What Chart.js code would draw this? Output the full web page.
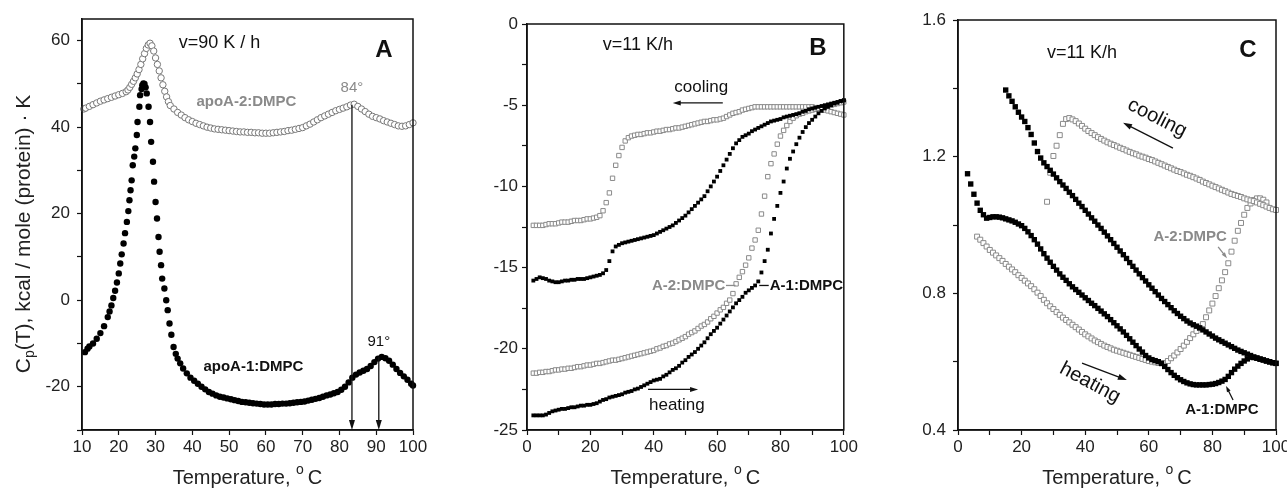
<!DOCTYPE html>
<html>
<head>
<meta charset="utf-8">
<script src="https://cdn.jsdelivr.net/npm/chart.js@4.4.0/dist/chart.umd.min.js"></script>
<style>
  html, body { margin: 0; padding: 0; background: #fff; }
  body { width: 1287px; height: 489px; overflow: hidden; position: relative; }
  canvas { position: absolute; top: 0; }
</style>
</head>
<body>
<canvas id="panel-a" width="430" height="489" style="left:0px"></canvas>
<canvas id="panel-b" width="430" height="489" style="left:430px"></canvas>
<canvas id="panel-c" width="440" height="489" style="left:860px"></canvas>
<script>
// ---- Panel A: DSC, Cp(T) vs temperature ----
const aXRange = [10, 100];
const aYRange = [-30, 65];
const aXLabels = [10, 20, 30, 40, 50, 60, 70, 80, 90, 100];
const aYLabels = [-20, 0, 20, 40, 60];

const apoA2Cp = [
  [10.5,44.2],[11,44.4],[12,44.8],[13,45.2],[14,45.6],[15,46.0],[16,46.3],[17,46.6],[18,46.9],[19,47.2],
  [20,47.5],[21,47.8],[22,48.2],[22.5,48.6],[23,49.2],[23.5,49.9],[24,50.6],[24.5,51.4],[25,52.3],[25.5,53.3],
  [26,54.5],[26.5,55.8],[27,57.0],[27.5,58.2],[28,59.0],[28.5,59.4],[29,58.8],[29.5,57.6],[30,56.0],[30.5,54.5],
  [31,53.0],[31.5,51.4],[32,49.8],[32.5,48.3],[33,47.0],[33.5,45.9],[34,45.0],[35,44.2],[36,43.4],[37,42.8],
  [38,42.2],[39,41.7],[40,41.3],[41,40.9],[42,40.6],[43,40.3],[44,40.0],[45,39.8],[46,39.6],[47,39.5],
  [48,39.4],[49,39.3],[50,39.2],[51,39.1],[52,39.0],[53,38.9],[54,38.9],[55,38.8],[56,38.8],[57,38.7],
  [58,38.7],[59,38.6],[60,38.6],[61,38.6],[62,38.7],[63,38.8],[64,38.9],[65,39.0],[66,39.2],[67,39.3],
  [68,39.5],[69,39.7],[70,39.9],[71,40.3],[72,40.7],[73,41.2],[74,41.7],[75,42.2],[76,42.6],[77,43.0],
  [78,43.4],[79,43.8],[80,44.1],[81,44.4],[82,44.7],[83,45.1],[84,45.3],[85,44.8],[86,44.2],[87,43.6],
  [88,43.0],[89,42.5],[90,42.2],[91,41.9],[92,41.5],[93,41.2],[94,40.9],[95,40.6],[96,40.3],[97,40.2],
  [98,40.3],[99,40.6],[100,41.0]
];
const apoA1Cp = [
  [10.8,-12.0],[11.5,-11.2],[12,-10.7],[13,-10.0],[14,-8.9],[15,-7.6],[16,-6.0],[17,-3.9],[17.5,-2.6],[18,-1.2],
  [18.5,0.5],[19,2.2],[19.5,4.1],[20,6.2],[20.4,8.5],[20.8,10.6],[21.3,13.1],[21.7,15.5],[22.2,18.1],[22.6,20.6],
  [22.9,23.1],[23.2,25.4],[23.5,27.7],[23.8,31.2],[24.2,33.2],[24.5,35.1],[24.9,38.2],[25.1,41.2],[25.6,44.7],[25.8,47.4],
  [26.2,48.8],[26.4,49.7],[26.7,50.1],[27.0,50.0],[27.3,49.2],[27.6,47.8],[28.1,44.7],[28.5,41.2],[28.8,36.6],[29.3,32.0],
  [29.6,27.4],[30.0,22.7],[30.4,18.9],[30.8,14.6],[31.1,11.2],[31.5,8.1],[31.8,5.0],[32.4,2.7],[32.9,0.0],[33.3,-2.3],
  [33.8,-5.4],[34.3,-8.0],[34.9,-10.8],[35.5,-12.4],[36,-13.5],[36.7,-14.6],[37.5,-15.8],[38.5,-16.9],[39.5,-17.9],[40.5,-18.6],
  [41.5,-19.3],[42.5,-20.0],[43.5,-20.6],[44.5,-21.2],[45.5,-21.6],[46.5,-22.0],[47.5,-22.3],[48.5,-22.5],[49.5,-22.7],[50.5,-22.9],
  [51.5,-23.1],[52.5,-23.3],[53.5,-23.5],[54.5,-23.6],[55.5,-23.7],[56.5,-23.8],[57.5,-23.9],[58.5,-24.0],[59.5,-24.1],[60.5,-24.1],
  [61.5,-24.1],[62.5,-24.0],[63.5,-24.0],[64.5,-23.9],[65.5,-23.9],[66.5,-23.8],[67.5,-23.7],[68.5,-23.6],[69.5,-23.5],[70.5,-23.4],
  [71.5,-23.2],[72.5,-23.0],[73.5,-22.8],[74.5,-22.6],[75.5,-22.3],[76.5,-22.0],[77.5,-21.8],[78.5,-21.5],[79.5,-21.2],[80.5,-20.7],
  [81.5,-20.0],[82.5,-19.0],[83.5,-17.9],[84.5,-17.2],[85.5,-16.7],[86.5,-16.3],[87.5,-15.9],[88.5,-15.2],[89.5,-14.3],[90.5,-13.5],
  [91.5,-13.1],[92.5,-13.4],[93.5,-14.0],[94.5,-14.9],[95.5,-15.9],[96.5,-16.8],[97.5,-17.6],[98.5,-18.4],[99.5,-19.3],[100,-19.7]
];

// ---- Panel B: CD ellipticity at 222 nm ----
const bXRange = [0, 100];
const bYRange = [-25, 0];
const bXLabels = [0, 20, 40, 60, 80, 100];
const bYLabels = [-25, -20, -15, -10, -5, 0];

const bA2Cooling = [
  [2,-12.4],[3,-12.4],[4,-12.4],[5,-12.4],[6,-12.35],[7,-12.3],[8,-12.3],[9,-12.3],[10,-12.25],[11,-12.2],
  [12,-12.2],[13,-12.2],[14,-12.15],[15,-12.1],[16,-12.1],[17,-12.1],[18,-12.05],[19,-12.0],[20,-12.0],[21,-11.95],
  [22,-11.9],[23,-11.8],[24,-11.5],[25,-11.0],[26,-10.4],[27,-9.5],[28,-8.7],[29,-8.1],[30,-7.6],[31,-7.2],
  [32,-7.0],[33,-6.9],[34,-6.85],[35,-6.8],[36,-6.8],[37,-6.75],[38,-6.7],[39,-6.7],[40,-6.65],[41,-6.6],
  [42,-6.6],[43,-6.55],[44,-6.5],[45,-6.5],[46,-6.45],[47,-6.4],[48,-6.4],[49,-6.35],[50,-6.3],[51,-6.25],
  [52,-6.2],[53,-6.15],[54,-6.1],[55,-6.05],[56,-6.0],[57,-6.0],[58,-5.95],[59,-5.9],[60,-5.9],[61,-5.85],
  [62,-5.8],[63,-5.7],[64,-5.6],[65,-5.5],[66,-5.45],[67,-5.4],[68,-5.3],[69,-5.25],[70,-5.2],[71,-5.15],
  [72,-5.1],[73,-5.1],[74,-5.1],[75,-5.1],[76,-5.1],[77,-5.1],[78,-5.1],[79,-5.1],[80,-5.1],[81,-5.1],
  [82,-5.1],[83,-5.1],[84,-5.1],[85,-5.1],[86,-5.1],[87,-5.1],[88,-5.1],[89,-5.1],[90,-5.1],[91,-5.15],
  [92,-5.2],[93,-5.25],[94,-5.3],[95,-5.35],[96,-5.4],[97,-5.45],[98,-5.5],[99,-5.55],[100,-5.6]
];
const bA1Cooling = [
  [2,-15.8],[3,-15.7],[4,-15.6],[5,-15.65],[6,-15.7],[7,-15.8],[8,-15.85],[9,-15.9],[10,-15.9],[11,-15.85],
  [12,-15.8],[13,-15.8],[14,-15.75],[15,-15.75],[16,-15.7],[17,-15.7],[18,-15.7],[19,-15.65],[20,-15.6],[21,-15.55],
  [22,-15.5],[23,-15.45],[24,-15.35],[25,-15.15],[26,-14.6],[27,-14.0],[28,-13.7],[29,-13.6],[30,-13.5],[31,-13.45],
  [32,-13.4],[33,-13.35],[34,-13.3],[35,-13.25],[36,-13.2],[37,-13.15],[38,-13.1],[39,-13.05],[40,-13.0],[41,-12.9],
  [42,-12.8],[43,-12.7],[44,-12.6],[45,-12.5],[46,-12.4],[47,-12.25],[48,-12.1],[49,-11.95],[50,-11.8],[51,-11.6],
  [52,-11.4],[53,-11.2],[54,-11.0],[55,-10.8],[56,-10.6],[57,-10.3],[58,-10.0],[59,-9.7],[60,-9.4],[61,-9.05],
  [62,-8.7],[63,-8.35],[64,-8.0],[65,-7.65],[66,-7.35],[67,-7.15],[68,-6.95],[69,-6.85],[70,-6.75],[71,-6.6],
  [72,-6.5],[73,-6.4],[74,-6.3],[75,-6.2],[76,-6.1],[77,-6.0],[78,-5.95],[79,-5.9],[80,-5.85],[81,-5.75],
  [82,-5.7],[83,-5.65],[84,-5.6],[85,-5.55],[86,-5.5],[87,-5.4],[88,-5.35],[89,-5.25],[90,-5.2],[91,-5.15],
  [92,-5.1],[93,-5.05],[94,-5.0],[95,-4.95],[96,-4.9],[97,-4.85],[98,-4.8],[99,-4.75],[100,-4.7]
];
const bA2Heating = [
  [2,-21.5],[3,-21.5],[4,-21.45],[5,-21.45],[6,-21.4],[7,-21.4],[8,-21.35],[9,-21.3],[10,-21.3],[11,-21.25],
  [12,-21.25],[13,-21.2],[14,-21.2],[15,-21.15],[16,-21.1],[17,-21.1],[18,-21.05],[19,-21.0],[20,-21.0],[21,-20.95],
  [22,-20.9],[23,-20.9],[24,-20.85],[25,-20.8],[26,-20.75],[27,-20.7],[28,-20.7],[29,-20.65],[30,-20.6],[31,-20.55],
  [32,-20.5],[33,-20.45],[34,-20.4],[35,-20.35],[36,-20.3],[37,-20.25],[38,-20.2],[39,-20.15],[40,-20.1],[41,-20.0],
  [42,-19.95],[43,-19.85],[44,-19.8],[45,-19.7],[46,-19.65],[47,-19.55],[48,-19.45],[49,-19.35],[50,-19.25],[51,-19.1],
  [52,-19.0],[53,-18.9],[54,-18.75],[55,-18.6],[56,-18.5],[57,-18.35],[58,-18.15],[59,-18.0],[60,-17.8],[61,-17.6],
  [62,-17.45],[63,-17.2],[64,-17.0],[65,-16.6],[66,-16.0],[67,-15.6],[68,-15.25],[69,-14.85],[70,-14.4],[71,-13.8],
  [72,-13.3],[73,-12.7],[74,-11.7],[75,-10.6],[76,-9.4],[77,-8.6],[78,-8.0],[79,-7.4],[80,-6.9],[81,-6.55],
  [82,-6.25],[83,-6.0],[84,-5.8],[85,-5.65],[86,-5.55],[87,-5.5],[88,-5.4],[89,-5.35],[90,-5.3],[91,-5.25],
  [92,-5.2],[93,-5.15],[94,-5.1],[95,-5.05],[96,-5.0],[97,-4.95],[98,-4.9],[99,-4.85],[100,-4.8]
];
const bA1Heating = [
  [2,-24.1],[3,-24.1],[4,-24.1],[5,-24.1],[6,-24.05],[7,-23.95],[8,-23.85],[9,-23.8],[10,-23.75],[11,-23.7],
  [12,-23.7],[13,-23.65],[14,-23.6],[15,-23.6],[16,-23.55],[17,-23.5],[18,-23.5],[19,-23.45],[20,-23.45],[21,-23.4],
  [22,-23.35],[23,-23.25],[24,-23.15],[25,-23.1],[26,-23.0],[27,-22.95],[28,-22.9],[29,-22.85],[30,-22.8],[31,-22.7],
  [32,-22.65],[33,-22.6],[34,-22.5],[35,-22.45],[36,-22.35],[37,-22.25],[38,-22.15],[39,-22.05],[40,-21.95],[41,-21.9],
  [42,-21.85],[43,-21.7],[44,-21.6],[45,-21.45],[46,-21.3],[47,-21.2],[48,-21.05],[49,-20.85],[50,-20.7],[51,-20.5],
  [52,-20.35],[53,-20.2],[54,-20.0],[55,-19.8],[56,-19.6],[57,-19.35],[58,-19.1],[59,-18.9],[60,-18.7],[61,-18.45],
  [62,-18.2],[63,-17.95],[64,-17.7],[65,-17.45],[66,-17.2],[67,-17.0],[68,-16.8],[69,-16.55],[70,-16.4],[71,-16.25],
  [72,-16.1],[73,-15.85],[74,-15.3],[75,-14.6],[76,-13.9],[77,-12.9],[78,-12.0],[79,-11.2],[80,-10.4],[81,-9.7],
  [82,-8.9],[83,-8.3],[84,-7.85],[85,-7.4],[86,-7.0],[87,-6.65],[88,-6.35],[89,-6.1],[90,-5.9],[91,-5.7],
  [92,-5.5],[93,-5.35],[94,-5.2],[95,-5.1],[96,-5.0],[97,-4.9],[98,-4.85],[99,-4.75],[100,-4.7]
];

// ---- Panel C: light scattering at 222 nm ----
const cXRange = [0, 100];
const cYRange = [0.4, 1.6];
const cXLabels = [0, 20, 40, 60, 80, 100];
const cYLabels = [0.4, 0.8, 1.2, 1.6];

const cA1Cooling = [
  [15,1.395],[16,1.378],[17,1.362],[18,1.346],[19,1.330],[20,1.316],[21,1.303],[22,1.285],[23,1.265],[24,1.240],
  [25,1.215],[26,1.196],[27,1.182],[28,1.171],[29,1.160],[30,1.149],[31,1.138],[32,1.127],[33,1.117],[34,1.107],
  [35,1.096],[36,1.086],[37,1.075],[38,1.064],[39,1.054],[40,1.043],[41,1.032],[42,1.021],[43,1.011],[44,1.000],
  [45,0.990],[46,0.979],[47,0.968],[48,0.957],[49,0.946],[50,0.935],[51,0.924],[52,0.913],[53,0.902],[54,0.890],
  [55,0.879],[56,0.868],[57,0.857],[58,0.846],[59,0.836],[60,0.825],[61,0.815],[62,0.805],[63,0.795],[64,0.785],
  [65,0.776],[66,0.767],[67,0.758],[68,0.749],[69,0.741],[70,0.733],[71,0.726],[72,0.719],[73,0.713],[74,0.708],
  [75,0.704],[76,0.699],[77,0.693],[78,0.687],[79,0.681],[80,0.675],[81,0.669],[82,0.664],[83,0.659],[84,0.654],
  [85,0.649],[86,0.644],[87,0.639],[88,0.634],[89,0.630],[90,0.626],[91,0.622],[92,0.618],[93,0.614],[94,0.611],
  [95,0.608],[96,0.605],[97,0.602],[98,0.599],[99,0.597],[100,0.595]
];
const cA1Heating = [
  [3,1.15],[4,1.12],[5,1.09],[6,1.064],[7,1.043],[8,1.03],[9,1.02],[10,1.022],[11,1.024],[12,1.024],
  [13,1.023],[14,1.021],[15,1.018],[16,1.015],[17,1.012],[18,1.008],[19,1.003],[20,0.998],[21,0.99],[22,0.98],
  [23,0.969],[24,0.957],[25,0.944],[26,0.93],[27,0.916],[28,0.903],[29,0.891],[30,0.879],[31,0.868],[32,0.857],
  [33,0.847],[34,0.838],[35,0.828],[36,0.819],[37,0.811],[38,0.803],[39,0.795],[40,0.787],[41,0.779],[42,0.771],
  [43,0.764],[44,0.756],[45,0.748],[46,0.74],[47,0.732],[48,0.723],[49,0.714],[50,0.705],[51,0.696],[52,0.687],
  [53,0.677],[54,0.667],[55,0.657],[56,0.647],[57,0.637],[58,0.628],[59,0.618],[60,0.611],[61,0.606],[62,0.603],
  [63,0.6],[64,0.595],[65,0.586],[66,0.577],[67,0.568],[68,0.56],[69,0.553],[70,0.547],[71,0.542],[72,0.538],
  [73,0.535],[74,0.533],[75,0.532],[76,0.532],[77,0.532],[78,0.532],[79,0.533],[80,0.534],[81,0.536],[82,0.539],
  [83,0.543],[84,0.548],[85,0.557],[86,0.568],[87,0.578],[88,0.587],[89,0.595],[90,0.602],[91,0.608],[92,0.613],
  [93,0.612],[94,0.61],[95,0.607],[96,0.605],[97,0.602],[98,0.6],[99,0.597],[100,0.595]
];
const cA2Heating = [
  [6,0.966],[7,0.957],[8,0.947],[9,0.937],[10,0.927],[11,0.919],[12,0.911],[13,0.903],[14,0.895],[15,0.886],
  [16,0.878],[17,0.87],[18,0.862],[19,0.853],[20,0.845],[21,0.837],[22,0.829],[23,0.821],[24,0.812],[25,0.802],
  [26,0.792],[27,0.781],[28,0.771],[29,0.762],[30,0.754],[31,0.745],[32,0.737],[33,0.729],[34,0.722],[35,0.715],
  [36,0.708],[37,0.701],[38,0.694],[39,0.687],[40,0.68],[41,0.674],[42,0.668],[43,0.662],[44,0.657],[45,0.652],
  [46,0.647],[47,0.643],[48,0.639],[49,0.635],[50,0.632],[51,0.629],[52,0.626],[53,0.623],[54,0.62],[55,0.617],
  [56,0.614],[57,0.611],[58,0.608],[59,0.605],[60,0.602],[61,0.6],[62,0.598],[63,0.596],[64,0.595],[65,0.596],
  [66,0.602],[67,0.61],[68,0.618],[69,0.627],[70,0.637],[71,0.647],[72,0.658],[73,0.669],[74,0.68],[75,0.69],
  [76,0.699],[77,0.71],[78,0.73],[79,0.75],[80,0.77],[81,0.792],[82,0.815],[83,0.838],[84,0.862],[85,0.888],
  [86,0.922],[87,0.954],[88,0.983],[89,1.006],[90,1.03],[91,1.05],[92,1.063],[93,1.073],[94,1.078],[95,1.078],
  [96,1.074],[97,1.066]
];
const cA2Cooling = [
  [28,1.068],[29,1.153],[30,1.202],[31,1.232],[32,1.263],[33,1.296],[34,1.310],[35,1.313],[36,1.309],[37,1.304],
  [38,1.297],[39,1.29],[40,1.282],[41,1.275],[42,1.269],[43,1.263],[44,1.257],[45,1.252],[46,1.247],[47,1.242],
  [48,1.238],[49,1.234],[50,1.23],[51,1.226],[52,1.222],[53,1.218],[54,1.214],[55,1.21],[56,1.207],[57,1.203],
  [58,1.2],[59,1.197],[60,1.193],[61,1.19],[62,1.186],[63,1.182],[64,1.178],[65,1.174],[66,1.17],[67,1.166],
  [68,1.162],[69,1.158],[70,1.155],[71,1.151],[72,1.147],[73,1.144],[74,1.14],[75,1.136],[76,1.132],[77,1.127],
  [78,1.123],[79,1.119],[80,1.115],[81,1.111],[82,1.107],[83,1.103],[84,1.099],[85,1.095],[86,1.091],[87,1.088],
  [88,1.085],[89,1.082],[90,1.078],[91,1.075],[92,1.072],[93,1.07],[94,1.066],[95,1.062],[96,1.058],[97,1.054],
  [98,1.05],[99,1.046],[100,1.044]
];

const FONT = '"Liberation Sans", Arial, Helvetica, sans-serif';
const INK = '#111';
const GREY = '#8a8a8a';

const isLabel = (labels, v) => labels.some(l => Math.abs(l - v) < 1e-6);

function makeScale(range, step, labels, fmt, fit, pad) {
  return {
    type: 'linear',
    min: range[0],
    max: range[1],
    afterFit: fit,
    border: { display: true, color: INK, width: 1.5 },
    grid: { drawOnChartArea: false, drawTicks: true, tickLength: 5, tickColor: INK, tickWidth: 1.2 },
    ticks: {
      stepSize: step, includeBounds: false, autoSkip: false, maxRotation: 0, padding: pad,
      color: '#222', font: { family: FONT, size: 17 },
      callback: v => isLabel(labels, v) ? fmt(v) : ''
    }
  };
}

// open / filled marker styles
const openCircle = { pointStyle: 'circle', pointRadius: 3.2, pointBackgroundColor: '#fff', pointBorderColor: '#777', pointBorderWidth: 1 };
const dot = { pointStyle: 'circle', pointRadius: 3.2, pointBackgroundColor: '#000', pointBorderWidth: 0 };
const openSquare = r => ({ pointStyle: 'rect', pointRadius: r, pointBackgroundColor: '#fff', pointBorderColor: GREY, pointBorderWidth: 1 });
const filledSquare = r => ({ pointStyle: 'rect', pointRadius: r, pointBackgroundColor: '#000', pointBorderWidth: 0 });

function richText(ctx, parts, cx, cy, angle, size, color) {
  ctx.save();
  ctx.translate(cx, cy);
  ctx.rotate(angle);
  ctx.fillStyle = color;
  ctx.textBaseline = 'middle';
  ctx.textAlign = 'left';
  const fontOf = p => `${p.bold ? 'bold ' : ''}${(p.sub || p.sup) ? Math.round(size * 0.68) : size}px ${FONT}`;
  let total = 0;
  parts.forEach(p => { ctx.font = fontOf(p); total += ctx.measureText(p.t).width; });
  let pos = -total / 2;
  parts.forEach(p => {
    ctx.font = fontOf(p);
    const dy = p.sub ? size * 0.3 : p.sup ? -size * 0.38 : 0;
    ctx.fillText(p.t, pos, dy);
    pos += ctx.measureText(p.t).width;
  });
  ctx.restore();
}

function arrow(ctx, x1, y1, x2, y2, color, len, half) {
  const ang = Math.atan2(y2 - y1, x2 - x1);
  ctx.strokeStyle = color;
  ctx.fillStyle = color;
  ctx.lineWidth = 1.3;
  ctx.beginPath();
  ctx.moveTo(x1, y1);
  ctx.lineTo(x2 - Math.cos(ang) * len * 0.7, y2 - Math.sin(ang) * len * 0.7);
  ctx.stroke();
  ctx.beginPath();
  ctx.moveTo(x2, y2);
  ctx.lineTo(x2 - len * Math.cos(ang) + half * Math.sin(ang), y2 - len * Math.sin(ang) - half * Math.cos(ang));
  ctx.lineTo(x2 - len * Math.cos(ang) - half * Math.sin(ang), y2 - len * Math.sin(ang) + half * Math.cos(ang));
  ctx.closePath();
  ctx.fill();
}

const X_TITLE = [{ t: 'Temperature, ' }, { t: 'o', sup: true }, { t: '\u2009C' }];

// frame box, axis titles and the text / arrow notes of one panel
function decor(cfg) {
  return {
    id: 'decor',
    afterDraw(chart) {
      const { ctx, chartArea: a, scales: { x, y } } = chart;
      ctx.save();
      ctx.strokeStyle = INK;
      ctx.lineWidth = 1.5;
      ctx.strokeRect(a.left, a.top, a.right - a.left, a.bottom - a.top);
      richText(ctx, X_TITLE, (a.left + a.right) / 2, 478, 0, 20, '#222');
      richText(ctx, cfg.yTitle, cfg.yTitleAt[0], cfg.yTitleAt[1], -Math.PI / 2, cfg.yTitleSize, '#222');
      cfg.notes.forEach(n => {
        const color = n.color || INK;
        if (n.text) {
          richText(ctx, [{ t: n.text, bold: n.bold }], x.getPixelForValue(n.at[0]), y.getPixelForValue(n.at[1]),
            (n.angle || 0) * Math.PI / 180, n.size, color);
        } else if (n.arrow) {
          arrow(ctx, x.getPixelForValue(n.from[0]), y.getPixelForValue(n.from[1]),
            x.getPixelForValue(n.to[0]), y.getPixelForValue(n.to[1]), color, n.head || 9, n.half || 3);
        } else if (n.line) {
          ctx.strokeStyle = color;
          ctx.lineWidth = 1.3;
          ctx.beginPath();
          ctx.moveTo(x.getPixelForValue(n.from[0]), y.getPixelForValue(n.from[1]));
          ctx.lineTo(x.getPixelForValue(n.to[0]), y.getPixelForValue(n.to[1]));
          ctx.stroke();
        }
      });
      ctx.restore();
    }
  };
}

function buildPanel(id, datasets, box, xScale, yScale, cfg) {
  return new Chart(document.getElementById(id), {
    type: 'scatter',
    data: { datasets },
    options: {
      responsive: false,
      animation: false,
      events: [],
      layout: { padding: { top: box.top, right: box.right, left: 0, bottom: 0 } },
      plugins: { legend: { display: false }, tooltip: { enabled: false } },
      scales: { x: xScale, y: yScale }
    },
    plugins: [decor(cfg)]
  });
}

const intFmt = v => String(Math.round(v));

buildPanel('panel-a', [
    Object.assign({ data: apoA2Cp, clip: false }, openCircle),
    Object.assign({ data: apoA1Cp, clip: false }, dot)
  ],
  { top: 19, right: 17 },
  makeScale(aXRange, 10, aXLabels, intFmt, s => { s.height = 59; }, 2),
  makeScale(aYRange, 10, aYLabels, intFmt, s => { s.width = 82; }, 7),
  {
    yTitle: [{ t: 'C' }, { t: 'p', sub: true }, { t: '(T), kcal / mole (protein) \u00b7 K' }],
    yTitleAt: [24, 234], yTitleSize: 21,
    notes: [
      { text: 'v=90 K / h', at: [47.4, 59.4], size: 18 },
      { text: 'A', at: [92.1, 57.8], size: 24, bold: true },
      { text: 'apoA-2:DMPC', at: [54.7, 45.8], size: 15, bold: true, color: GREY },
      { text: '84\u00b0', at: [83.4, 49.0], size: 15, color: GREY },
      { text: 'apoA-1:DMPC', at: [56.6, -15.5], size: 15, bold: true },
      { text: '91\u00b0', at: [90.7, -9.6], size: 15 },
      { arrow: true, from: [83.4, 45.2], to: [83.4, -30], head: 10, half: 3 },
      { arrow: true, from: [90.7, -13.2], to: [90.7, -30], head: 10, half: 3 }
    ]
  });

buildPanel('panel-b', [
    Object.assign({ data: bA1Cooling, clip: false }, filledSquare(2.7)),
    Object.assign({ data: bA1Heating, clip: false }, filledSquare(2.7)),
    Object.assign({ data: bA2Cooling, clip: false }, openSquare(3.1)),
    Object.assign({ data: bA2Heating, clip: false }, openSquare(3.1))
  ],
  { top: 24, right: 16 },
  makeScale(bXRange, 10, bXLabels, intFmt, s => { s.height = 59; }, 2),
  makeScale(bYRange, 2.5, bYLabels, intFmt, s => { s.width = 97; }, 4),
  {
    yTitle: [{ t: '[\u0398' }, { t: '222', sub: true }, { t: '], deg \u00b7 cm' }, { t: '2', sup: true },
      { t: ' \u00b7 dmol' }, { t: '-1', sup: true }, { t: ' \u00b7 10' }, { t: '3', sup: true }],
    yTitleAt: [476, 252], yTitleSize: 20,
    notes: [
      { text: 'v=11 K/h', at: [35, -1.3], size: 18 },
      { text: 'B', at: [91.8, -1.5], size: 24, bold: true },
      { text: 'cooling', at: [55, -3.9], size: 17 },
      { arrow: true, from: [61.8, -4.86], to: [46, -4.86], head: 8, half: 2.5 },
      { text: 'heating', at: [47.3, -23.5], size: 17 },
      { arrow: true, from: [38.2, -22.5], to: [54, -22.5], head: 8, half: 2.5 },
      { text: 'A-2:DMPC', at: [51, -16.1], size: 15, bold: true, color: GREY },
      { line: true, from: [62.8, -16.1], to: [65.8, -16.1], color: GREY },
      { text: 'A-1:DMPC', at: [88.2, -16.1], size: 15, bold: true },
      { line: true, from: [73.3, -16.1], to: [76.3, -16.1] }
    ]
  });

buildPanel('panel-c', [
    Object.assign({ data: cA1Cooling, clip: false }, filledSquare(3.8)),
    Object.assign({ data: cA1Heating, clip: false }, filledSquare(3.8)),
    Object.assign({ data: cA2Cooling, clip: false }, openSquare(3.5)),
    Object.assign({ data: cA2Heating, clip: false }, openSquare(3.5))
  ],
  { top: 20, right: 24 },
  makeScale(cXRange, 10, cXLabels, intFmt, s => { s.height = 59; }, 2),
  makeScale(cYRange, 0.2, cYLabels, v => v.toFixed(1), s => { s.width = 98; }, 7),
  {
    yTitle: [{ t: 'Light scattering at 222 nm, arbitrary units' }],
    yTitleAt: [898, 220], yTitleSize: 20,
    notes: [
      { text: 'v=11 K/h', at: [39, 1.503], size: 18 },
      { text: 'C', at: [91.2, 1.512], size: 24, bold: true },
      { text: 'cooling', at: [62.6, 1.313], size: 20, angle: 27 },
      { arrow: true, from: [67.6, 1.225], to: [51.9, 1.299], head: 9, half: 3 },
      { text: 'heating', at: [41.5, 0.538], size: 20, angle: 28 },
      { arrow: true, from: [39, 0.596], to: [53.1, 0.546], head: 9, half: 3 },
      { text: 'A-2:DMPC', at: [73, 0.965], size: 15, bold: true, color: GREY },
      { arrow: true, from: [81.8, 0.936], to: [84.6, 0.903], head: 6, half: 2, color: GREY },
      { text: 'A-1:DMPC', at: [83, 0.459], size: 15, bold: true },
      { arrow: true, from: [86.5, 0.488], to: [84.3, 0.529], head: 6, half: 2 }
    ]
  });
</script>
</body>
</html>
